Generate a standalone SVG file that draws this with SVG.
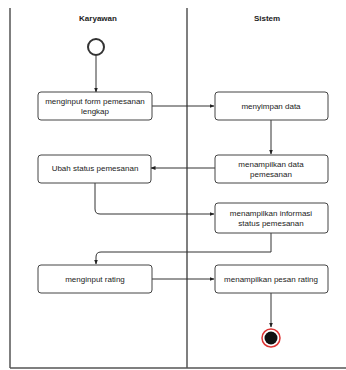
<svg xmlns="http://www.w3.org/2000/svg" width="346" height="370" viewBox="0 0 346 370">
<defs>
<marker id="arr" viewBox="0 0 10 10" refX="9" refY="5" markerWidth="5" markerHeight="5" orient="auto-start-reverse">
<path d="M0,1 L10,5 L0,9 z" fill="#222"/>
</marker>
<style>
.lane{stroke:#555;stroke-width:1.5;fill:none}
.box{fill:#fff;stroke:#444;stroke-width:1}
.t{font-family:"Liberation Sans",Arial,sans-serif;font-size:8px;fill:#222;text-anchor:middle}
.h{font-family:"Liberation Sans",Arial,sans-serif;font-size:8px;font-weight:bold;fill:#222;text-anchor:middle}
.c{stroke:#333;stroke-width:1;fill:none;marker-end:url(#arr)}
</style>
</defs>
<rect width="346" height="370" fill="#fff"/>
<g id="lanes">
<line class="lane" x1="10" y1="8" x2="10" y2="368"/>
<line class="lane" x1="187" y1="8" x2="187" y2="368"/>
<line class="lane" x1="10" y1="368" x2="346" y2="368"/>
<text class="h" x="98" y="21">Karyawan</text>
<text class="h" x="267" y="21">Sistem</text>
</g>
<g id="connectors">
<line class="c" x1="96" y1="56" x2="96" y2="92"/>
<line class="c" x1="152" y1="106" x2="214" y2="106"/>
<line class="c" x1="271" y1="120" x2="271" y2="154"/>
<line class="c" x1="215" y1="168" x2="151" y2="168"/>
<path class="c" d="M95,183 L95,209 Q95,214 100,214 L214,214"/>
<path class="c" d="M271,233 L271,252 L101,252 Q96,252 96,257 L96,264"/>
<line class="c" x1="152" y1="279" x2="214" y2="279"/>
<line class="c" x1="271" y1="293" x2="271" y2="327"/>
</g>
<g id="start"><circle cx="96" cy="47" r="8" fill="#fff" stroke="#333" stroke-width="2"/></g>
<g id="n1"><rect class="box" x="38" y="92" width="114" height="28" rx="3"/><text class="t" x="95" y="104">menginput form pemesanan</text><text class="t" x="95" y="114">lengkap</text></g>
<g id="n2"><rect class="box" x="215" y="92" width="113" height="28" rx="3"/><text class="t" x="271" y="109">menyimpan data</text></g>
<g id="n3"><rect class="box" x="215" y="155" width="113" height="28" rx="3"/><text class="t" x="271" y="167">menampilkan data</text><text class="t" x="271" y="177">pemesanan</text></g>
<g id="n4"><rect class="box" x="38" y="155" width="113" height="28" rx="3"/><text class="t" x="95" y="171">Ubah status pemesanan</text></g>
<g id="n5"><rect class="box" x="215" y="203" width="113" height="30" rx="3"/><text class="t" x="271" y="216">menampilkan informasi</text><text class="t" x="271" y="226">status pemesanan</text></g>
<g id="n6"><rect class="box" x="38" y="265" width="114" height="28" rx="3"/><text class="t" x="95" y="282">menginput rating</text></g>
<g id="n7"><rect class="box" x="215" y="265" width="113" height="28" rx="3"/><text class="t" x="271" y="282">menampilkan pesan rating</text></g>
<g id="end"><circle cx="271" cy="338" r="9" fill="#fff" stroke="#d33" stroke-width="1.5"/><circle cx="271" cy="338" r="6.5" fill="#111"/></g>
</svg>
